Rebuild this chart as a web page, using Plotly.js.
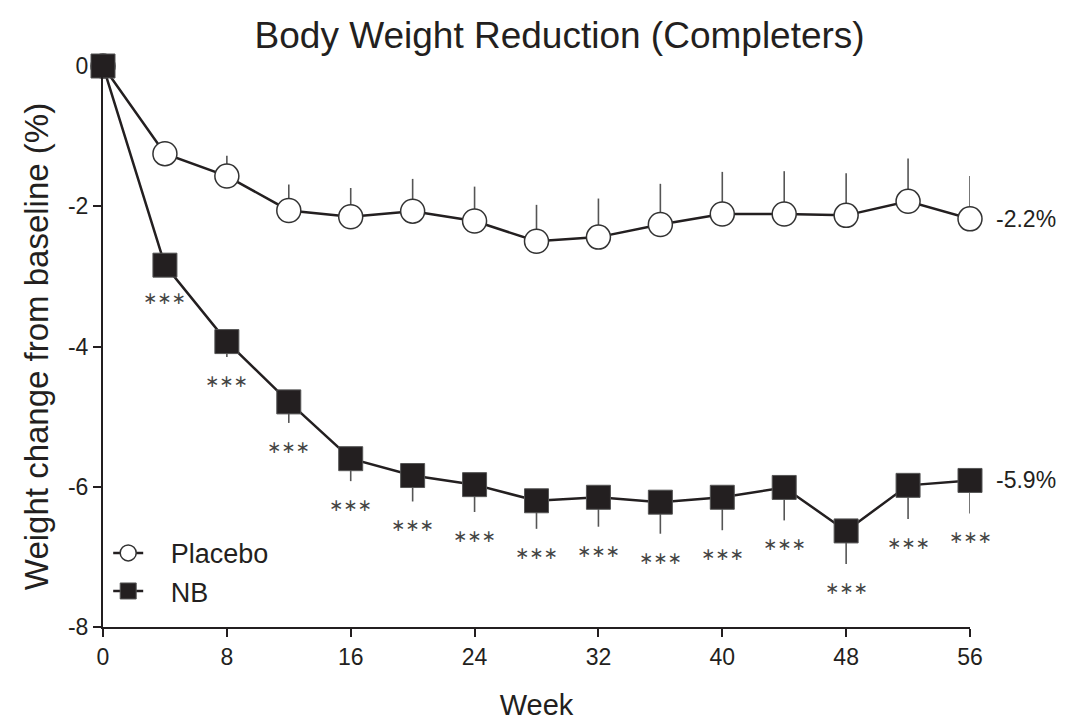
<!DOCTYPE html>
<html>
<head>
<meta charset="utf-8">
<script src="https://cdn.plot.ly/plotly-3.0.1.min.js"></script>
<style>html,body{margin:0;padding:0;background:#fff;}#chart{width:1066px;height:721px;}</style>
</head>
<body>
<div id="chart"></div>
<script>
// Data
var weeks = [0, 4, 8, 12, 16, 20, 24, 28, 32, 36, 40, 44, 48, 52, 56];
var placebo = [0, -1.25, -1.57, -2.06, -2.15, -2.07, -2.21, -2.50, -2.44, -2.26, -2.11, -2.11, -2.13, -1.93, -2.18];
var placeboErr = [0, 0.12, 0.29, 0.37, 0.41, 0.46, 0.49, 0.52, 0.55, 0.58, 0.60, 0.61, 0.60, 0.61, 0.61];
var nb = [0, -2.84, -3.93, -4.79, -5.60, -5.84, -5.97, -6.20, -6.15, -6.22, -6.15, -6.01, -6.63, -5.98, -5.91];
var nbErr = [0, 0.12, 0.22, 0.30, 0.32, 0.37, 0.39, 0.40, 0.42, 0.45, 0.47, 0.47, 0.47, 0.48, 0.47];
var significance = ["", "***", "***", "***", "***", "***", "***", "***", "***", "***", "***", "***", "***", "***", "***"];
var endLabels = ["-2.2%", "-5.9%"];
var seriesNames = ["Placebo", "NB"];
var xTickVals = [0, 8, 16, 24, 32, 40, 48, 56];
var xTickText = ["0", "8", "16", "24", "32", "40", "48", "56"];
var yTickVals = [0, -2, -4, -6, -8];
var yTickText = ["0", "-2", "-4", "-6", "-8"];

var ink = "#231f20";
var font = "Liberation Sans, Arial, sans-serif";
var zeros = placeboErr.map(function(){return 0;});
var legendPad = "\u00a0\u00a0\u00a0";

var traces = [
  {
    x: weeks, y: placebo, name: legendPad + seriesNames[0], type: "scatter", mode: "lines+markers",
    cliponaxis: false,
    line: {color: ink, width: 2.5},
    marker: {symbol: "circle", size: 24, color: "#ffffff", line: {color: "#333333", width: 1.5}},
    error_y: {type: "data", symmetric: false, array: placeboErr, arrayminus: zeros, color: "#555555", thickness: 1.6, width: 0}
  },
  {
    x: weeks, y: nb, name: legendPad + seriesNames[1], type: "scatter", mode: "lines+markers",
    cliponaxis: false,
    line: {color: ink, width: 2.5},
    marker: {symbol: "square", size: 24, color: ink, line: {color: "#555555", width: 1}},
    error_y: {type: "data", symmetric: false, array: zeros, arrayminus: nbErr, color: "#555555", thickness: 1.6, width: 0}
  }
];

var annotations = [];
for (var i = 0; i < weeks.length; i++) {
  if (!significance[i]) continue;
  annotations.push({
    x: weeks[i], y: nb[i] - nbErr[i], xref: "x", yref: "y",
    text: significance[i].replace(/\*/g, "\u2217"), showarrow: false,
    yanchor: "middle", xanchor: "center", yshift: -24,
    font: {family: "DejaVu Sans, sans-serif", size: 17, color: "#444444"}
  });
}
var last = weeks.length - 1;
annotations.push({
  x: weeks[last], y: placebo[last], xref: "x", yref: "y", text: endLabels[0], showarrow: false,
  xanchor: "left", yanchor: "middle", xshift: 24, font: {family: font, size: 23, color: ink}
});
annotations.push({
  x: weeks[last], y: nb[last], xref: "x", yref: "y", text: endLabels[1], showarrow: false,
  xanchor: "left", yanchor: "middle", xshift: 24, font: {family: font, size: 23, color: ink}
});

var layout = {
  width: 1066, height: 721,
  margin: {l: 103, r: 96, t: 66, b: 94, pad: 0},
  paper_bgcolor: "#ffffff", plot_bgcolor: "#ffffff",
  font: {family: font, color: ink},
  title: {text: "Body Weight Reduction (Completers)", font: {family: font, size: 37, color: ink},
          x: 0.525, xref: "container", xanchor: "center", y: 0.952, yref: "container", yanchor: "middle"},
  showlegend: true,
  legend: {x: 0.006, y: 0.175, xanchor: "left", yanchor: "top", font: {family: font, size: 27, color: ink},
           bgcolor: "rgba(0,0,0,0)", tracegroupgap: 0, itemwidth: 30},
  xaxis: {
    range: [0, 56], tickvals: xTickVals, ticktext: xTickText,
    showgrid: false, zeroline: false, showline: true, linecolor: ink, linewidth: 2,
    ticks: "outside", ticklen: 8, tickwidth: 2, tickcolor: ink,
    tickfont: {family: font, size: 23, color: ink},
    title: {text: "Week", font: {family: font, size: 29, color: ink}, standoff: 32}
  },
  yaxis: {
    range: [-8, 0], tickvals: yTickVals, ticktext: yTickText,
    showgrid: false, zeroline: false, showline: true, linecolor: ink, linewidth: 2,
    ticks: "outside", ticklen: 8, tickwidth: 2, tickcolor: ink,
    tickfont: {family: font, size: 23, color: ink},
    title: {text: "Weight change from baseline (%)", font: {family: font, size: 33, color: ink}, standoff: 9}
  },
  annotations: annotations
};

Plotly.newPlot("chart", traces, layout, {displayModeBar: false, staticPlot: true});
</script>
</body>
</html>
